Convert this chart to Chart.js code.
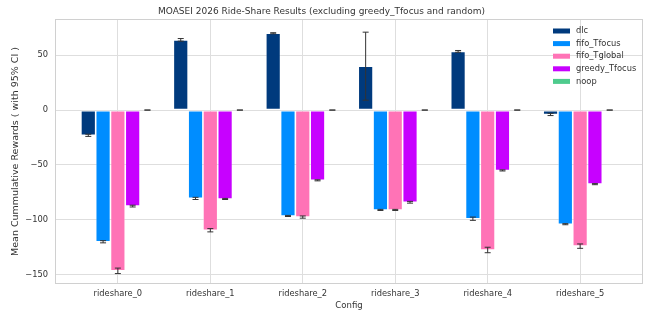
<!DOCTYPE html>
<html>
<head>
<meta charset="utf-8">
<script src="https://cdn.jsdelivr.net/npm/chart.js@4.4.0/dist/chart.umd.min.js"></script>
<style>
  html, body { margin: 0; padding: 0; background: #fff; }
</style>
</head>
<body>
<canvas id="chart" width="655" height="315"></canvas>
<script>
// categories and series
const configs = ['rideshare_0', 'rideshare_1', 'rideshare_2', 'rideshare_3', 'rideshare_4', 'rideshare_5'];
const seriesNames = ['dlc', 'fifo_Tfocus', 'fifo_Tglobal', 'greedy_Tfocus', 'noop'];
const seriesColors = ['#003a7d', '#008dff', '#ff73b6', '#c701ff', '#4ecb8d'];

const dlc = [-23, 64, 70, 40, 53.5, -4];
const fifoTfocus = [-120, -80.5, -96.5, -91, -99, -104];
const fifoTglobal = [-146.5, -109.5, -97.5, -91, -127.5, -124];
const greedyTfocus = [-87.5, -81, -64, -84, -55, -67.5];
const noop = [0, 0, 0, 0, 0, 0];

// half width of the 95% CI
const dlcErr = [1, 1.2, 0.5, 31, 0.8, 1];
const fifoTfocusErr = [1, 1, 0.5, 0.5, 1.5, 0.5];
const fifoTglobalErr = [2.5, 1.5, 1, 0.5, 2.5, 2];
const greedyTfocusErr = [0.8, 0.5, 0.5, 0.8, 0.5, 0.5];
const noopErr = [0, 0, 0, 0, 0, 0];

const yTicks = [-150, -100, -50, 0, 50];

const values = [dlc, fifoTfocus, fifoTglobal, greedyTfocus, noop];
const errors = [dlcErr, fifoTfocusErr, fifoTglobalErr, greedyTfocusErr, noopErr];

const textColor = '#333';
const gridColor = '#dedede';
const tickFont = { family: 'DejaVu Sans', size: 8.3 };

const datasets = seriesNames.map((name, i) => ({
  label: name,
  data: values[i].map((v, j) => ({ x: j, y: v })),
  errs: errors[i],
  backgroundColor: seriesColors[i],
  borderColor: 'rgba(255,255,255,0.45)',
  borderWidth: 0.8,
  borderSkipped: false,
  categoryPercentage: 0.8,
  barPercentage: 1
}));

const errorBars = {
  id: 'errorBars',
  afterDatasetsDraw(chart) {
    const ctx = chart.ctx;
    const yScale = chart.scales.y;
    ctx.save();
    ctx.strokeStyle = '#333';
    ctx.lineWidth = 1;
    chart.data.datasets.forEach((ds, i) => {
      const meta = chart.getDatasetMeta(i);
      meta.data.forEach((bar, j) => {
        const v = ds.data[j].y;
        const e = ds.errs[j];
        const yLo = yScale.getPixelForValue(v - e);
        const yHi = yScale.getPixelForValue(v + e);
        const x = bar.x;
        ctx.beginPath();
        ctx.moveTo(x, yLo); ctx.lineTo(x, yHi);
        ctx.moveTo(x - 3, yLo); ctx.lineTo(x + 3, yLo);
        ctx.moveTo(x - 3, yHi); ctx.lineTo(x + 3, yHi);
        ctx.stroke();
      });
    });
    ctx.restore();
  }
};

const frameAndLegend = {
  id: 'frameAndLegend',
  afterDraw(chart) {
    const ctx = chart.ctx;
    const a = chart.chartArea;
    ctx.save();
    ctx.strokeStyle = '#d0d0d0';
    ctx.lineWidth = 1;
    ctx.strokeRect(a.left + 0.5, a.top + 0.5, a.right - a.left - 1, a.bottom - a.top - 1);

    // legend inside the plot, upper right
    const x0 = a.right - 90;
    let y = a.top + 12;
    ctx.font = '8.3px "DejaVu Sans"';
    ctx.textBaseline = 'middle';
    chart.data.datasets.forEach(ds => {
      ctx.fillStyle = ds.backgroundColor;
      ctx.fillRect(x0, y - 2.5, 17, 5);
      ctx.fillStyle = textColor;
      ctx.fillText(ds.label, x0 + 23, y);
      y += 12.6;
    });
    ctx.restore();
  }
};

new Chart(document.getElementById('chart'), {
  type: 'bar',
  data: { datasets },
  plugins: [errorBars, frameAndLegend],
  options: {
    responsive: false,
    animation: false,
    devicePixelRatio: 1,
    layout: { padding: { left: 0, right: 12, top: 0, bottom: 0 } },
    plugins: {
      legend: { display: false },
      tooltip: { enabled: false },
      title: {
        display: true,
        text: 'MOASEI 2026 Ride-Share Results (excluding greedy_Tfocus and random)',
        color: textColor,
        font: { family: 'DejaVu Sans', size: 9, weight: 'normal' },
        padding: { top: 6.6, bottom: 1.6 }
      }
    },
    scales: {
      x: {
        type: 'linear',
        min: -0.68,
        max: 5.68,
        offset: false,
        afterBuildTicks: s => { s.ticks = configs.map((c, i) => ({ value: i })); },
        afterFit: s => { s.height = 31; },
        ticks: {
          color: textColor,
          font: tickFont,
          padding: 5,
          maxRotation: 0,
          callback: v => configs[v]
        },
        grid: { color: gridColor, drawTicks: false, offset: false },
        border: { display: false },
        title: {
          display: true,
          text: 'Config',
          color: textColor,
          font: { family: 'DejaVu Sans', size: 8.5 },
          padding: { top: 0, bottom: 3.9 }
        }
      },
      y: {
        min: -158.5,
        max: 83,
        afterBuildTicks: s => { s.ticks = yTicks.map(v => ({ value: v })); },
        afterFit: s => { s.width = 55; },
        ticks: {
          color: textColor,
          font: tickFont,
          padding: 7,
          callback: v => String(v).replace('-', '\u2212')
        },
        grid: { color: gridColor, drawTicks: false },
        border: { display: false },
        title: {
          display: true,
          text: 'Mean Cummulative Rewards ( with 95% CI )',
          color: textColor,
          font: { family: 'DejaVu Sans', size: 9.5 },
          padding: { top: 9.8, bottom: 0 }
        }
      }
    }
  }
});
</script>
</body>
</html>
